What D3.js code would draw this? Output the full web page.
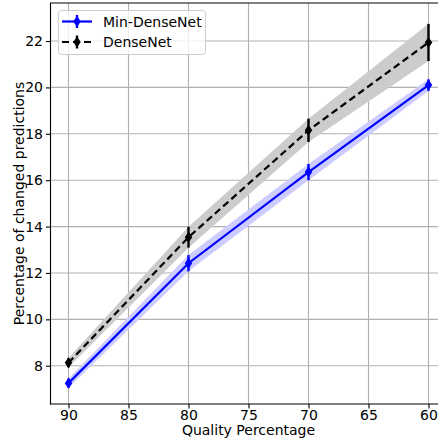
<!DOCTYPE html>
<html>
<head>
<meta charset="utf-8">
<script src="https://cdn.jsdelivr.net/npm/d3@7"></script>
<style>
  html, body { margin: 0; padding: 0; background: #fff; }
  svg { display: block; font-family: "DejaVu Sans", sans-serif; }
</style>
</head>
<body>
<svg id="chart" width="438" height="441"></svg>
<script>
// JPEG quality levels and the share of predictions that changed
const quality = [90, 80, 70, 60];
const minDenseNet = [7.25, 12.42, 16.35, 20.1];
const minDenseNetStd = [0.2, 0.35, 0.35, 0.25];
const denseNet = [8.13, 13.54, 18.15, 21.94];
const denseNetStd = [0.2, 0.45, 0.5, 0.8];
const xTicks = [90, 85, 80, 75, 70, 65, 60];
const yTicks = [8, 10, 12, 14, 16, 18, 20, 22];

const series = [
  { name: "Min-DenseNet", values: minDenseNet, std: minDenseNetStd, color: "#0000ff", band: "#ccccff", dash: null },
  { name: "DenseNet", values: denseNet, std: denseNetStd, color: "#000000", band: "#cccccc", dash: "7,4" }
];

const svg = d3.select("#chart");
const plotLeft = 50.5, plotRight = 446.5, plotTop = 3, plotBottom = 404;

const x = d3.scaleLinear().domain([91.5, 58.5]).range([plotLeft, plotRight]);
const y = d3.scaleLinear().domain([6.35, 23.64]).range([plotBottom, plotTop]);

// grid
const grid = svg.append("g");
grid.selectAll("line.gx").data(xTicks).join("line")
  .attr("x1", d => x(d)).attr("x2", d => x(d))
  .attr("y1", plotTop).attr("y2", plotBottom)
  .attr("stroke", "#b0b0b0").attr("stroke-width", 1.1);
grid.selectAll("line.gy").data(yTicks).join("line")
  .attr("x1", plotLeft).attr("x2", plotRight)
  .attr("y1", d => y(d)).attr("y2", d => y(d))
  .attr("stroke", "#b0b0b0").attr("stroke-width", 1.1);

// shaded spread bands (DenseNet first so Min-DenseNet sits above)
const bandOrder = [series[1], series[0]];
bandOrder.forEach(s => {
  const area = d3.area()
    .x((d, i) => x(quality[i]))
    .y0((d, i) => y(d - s.std[i]))
    .y1((d, i) => y(d + s.std[i]));
  svg.append("path").datum(s.values)
    .attr("d", area).attr("fill", s.band).attr("stroke", "none");
});

const diamond = (cx, cy, w, h) =>
  `M${cx},${cy - h / 2}L${cx + w / 2},${cy}L${cx},${cy + h / 2}L${cx - w / 2},${cy}Z`;

// lines, error bars and markers
series.forEach(s => {
  const line = d3.line().x((d, i) => x(quality[i])).y(d => y(d));
  svg.append("path").datum(s.values)
    .attr("d", line).attr("fill", "none")
    .attr("stroke", s.color).attr("stroke-width", 2.2)
    .attr("stroke-dasharray", s.dash);
  const g = svg.append("g");
  g.selectAll("line").data(s.values).join("line")
    .attr("x1", (d, i) => x(quality[i])).attr("x2", (d, i) => x(quality[i]))
    .attr("y1", (d, i) => y(d - s.std[i])).attr("y2", (d, i) => y(d + s.std[i]))
    .attr("stroke", s.color).attr("stroke-width", 2.4);
  g.selectAll("path").data(s.values).join("path")
    .attr("d", (d, i) => diamond(x(quality[i]), y(d), 7.5, 11))
    .attr("fill", s.color);
});

// spines
const axisG = svg.append("g").attr("stroke", "#000").attr("stroke-width", 1.1);
axisG.append("line").attr("x1", plotLeft).attr("x2", plotLeft).attr("y1", plotTop).attr("y2", plotBottom + 0.5);
axisG.append("line").attr("x1", plotLeft - 0.5).attr("x2", plotRight).attr("y1", plotBottom).attr("y2", plotBottom);
axisG.append("line").attr("x1", plotLeft - 0.5).attr("x2", plotRight).attr("y1", plotTop).attr("y2", plotTop);
axisG.append("line").attr("x1", plotRight).attr("x2", plotRight).attr("y1", plotTop).attr("y2", plotBottom);

// axes via d3
const xAxis = d3.axisBottom(x).tickValues(xTicks).tickSize(4.5).tickPadding(2).tickFormat(d3.format("d"));
const yAxis = d3.axisLeft(y).tickValues(yTicks).tickSize(4.5).tickPadding(3).tickFormat(d3.format("d"));

const gx = svg.append("g").attr("transform", `translate(0,${plotBottom})`).call(xAxis);
const gy = svg.append("g").attr("transform", `translate(${plotLeft},0)`).call(yAxis);
[gx, gy].forEach(g => {
  g.select(".domain").remove();
  g.selectAll(".tick line").attr("stroke", "#000").attr("stroke-width", 1.1);
  g.selectAll(".tick text").attr("fill", "#000").attr("font-size", 14)
    .attr("font-family", "DejaVu Sans, sans-serif");
});

// axis titles
svg.append("text")
  .attr("x", (plotLeft + plotRight) / 2).attr("y", 434.5)
  .attr("text-anchor", "middle").attr("font-size", 14).attr("fill", "#000")
  .text("Quality Percentage");
svg.append("text")
  .attr("transform", `translate(24,${(plotTop + plotBottom) / 2}) rotate(-90)`)
  .attr("text-anchor", "middle").attr("font-size", 14).attr("fill", "#000")
  .text("Percentage of changed predictions");

// legend
const legend = svg.append("g");
legend.append("rect")
  .attr("x", 58.5).attr("y", 10.5).attr("width", 147).attr("height", 44)
  .attr("rx", 3).attr("fill", "#fff").attr("fill-opacity", 0.8)
  .attr("stroke", "#cccccc").attr("stroke-width", 1);
series.forEach((s, i) => {
  const cy = 21.5 + i * 20.5;
  legend.append("line")
    .attr("x1", 62).attr("x2", 92).attr("y1", cy).attr("y2", cy)
    .attr("stroke", s.color).attr("stroke-width", 2.2)
    .attr("stroke-dasharray", s.dash);
  legend.append("line")
    .attr("x1", 77).attr("x2", 77).attr("y1", cy - 6.5).attr("y2", cy + 6.5)
    .attr("stroke", s.color).attr("stroke-width", 2.4);
  legend.append("path").attr("d", diamond(77, cy, 7.5, 11)).attr("fill", s.color);
  legend.append("text")
    .attr("x", 103).attr("y", cy).attr("dy", "0.36em")
    .attr("font-size", 14).attr("fill", "#000")
    .text(s.name);
});
</script>
</body>
</html>
